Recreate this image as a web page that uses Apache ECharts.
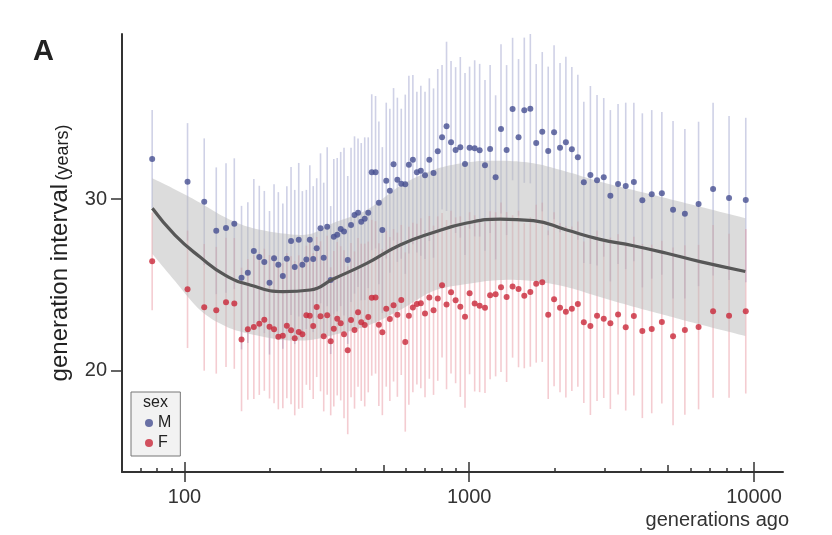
<!DOCTYPE html>
<html>
<head>
<meta charset="utf-8">
<title>generation interval</title>
<script src="https://cdn.jsdelivr.net/npm/echarts@6.0.0/dist/echarts.min.js"></script>
<style>
  html, body { margin: 0; padding: 0; background: #fff; }
  #echarts_id { width: 832px; height: 535px; }
</style>
</head>
<body>
<div id="echarts_id"></div>
<script>
// bins (generations ago)
var gens = [77, 102.5, 117.3, 129.3, 139.9, 149.6, 158.6, 166.9, 175.2, 183.1,
  190.7, 198.9, 206.3, 213.6, 221.5, 228.8, 236.7, 243.9, 251.9, 259.4,
  267.9, 275.5, 283.2, 291.3, 300.4, 308.3, 317.1, 326.2, 334.5, 343.9,
  353.7, 363.3, 374.4, 384.5, 395.5, 406.9, 417.6, 429.5, 441.9, 454.6,
  468.8, 481.5, 495.3, 511.2, 526.3, 542.3, 559.3, 577.2, 596.2, 613.8,
  634, 654.8, 676.1, 699.4, 724.3, 749.3, 775.3, 802.7, 832.4, 863.2,
  895.8, 930.5, 966.5, 1003, 1045, 1088, 1136, 1184, 1238, 1293,
  1353, 1420, 1490, 1561, 1639, 1719, 1805, 1894, 1986, 2084,
  2185, 2293, 2407, 2526, 2664, 2811, 2968, 3131, 3332, 3545,
  3786, 4055, 4375, 4748, 5198, 5720, 6390, 7185, 8176, 9359];

var maleVal = [32.33, 31.00, 29.84, 28.15, 28.31, 28.56, 25.42, 25.71, 26.97, 26.62,
  26.33, 25.12, 26.55, 26.17, 25.51, 26.52, 27.55, 26.04, 27.63, 26.17,
  26.48, 27.63, 26.50, 27.13, 28.29, 26.58, 28.39, 25.28, 27.80, 27.92,
  28.25, 28.10, 26.45, 28.49, 29.07, 29.20, 28.68, 28.85, 29.20, 31.56,
  31.56, 29.78, 28.19, 31.07, 30.48, 32.02, 31.12, 30.89, 30.86, 32.00,
  32.29, 31.56, 31.65, 31.38, 32.29, 31.51, 32.78, 33.60, 34.23, 33.30,
  32.85, 33.01, 32.04, 32.99, 32.95, 32.84, 31.96, 32.91, 31.26, 34.08,
  32.85, 35.24, 33.59, 35.17, 35.26, 33.26, 33.92, 32.80, 33.89, 32.99,
  33.30, 32.90, 32.43, 30.97, 31.40, 31.09, 31.26, 30.19, 30.87, 30.76,
  30.99, 29.92, 30.27, 30.33, 29.38, 29.14, 29.71, 30.58, 30.06, 29.94];

var femaleVal = [26.37, 24.74, 23.69, 23.52, 23.98, 23.92, 21.82, 22.41, 22.54, 22.74,
  22.97, 22.56, 22.41, 21.98, 22.04, 22.62, 22.35, 21.89, 22.25, 22.12,
  23.23, 23.20, 22.60, 23.71, 23.17, 22.00, 23.23, 21.71, 22.44, 23.03,
  22.76, 22.12, 21.19, 22.95, 22.37, 23.40, 22.82, 22.66, 23.13, 24.25,
  24.27, 22.68, 22.24, 23.61, 23.01, 23.81, 23.26, 24.12, 21.67, 23.20,
  23.68, 23.88, 23.93, 23.33, 24.27, 23.52, 24.20, 24.98, 23.85, 24.57,
  24.10, 23.73, 23.14, 24.51, 23.92, 23.78, 23.67, 24.39, 24.45, 24.86,
  24.29, 24.91, 24.76, 24.37, 24.58, 25.07, 25.15, 23.26, 24.16, 23.67,
  23.43, 23.61, 23.88, 22.82, 22.60, 23.20, 23.03, 22.76, 23.28, 22.53,
  23.18, 22.31, 22.43, 22.83, 22.00, 22.37, 22.54, 23.46, 23.20, 23.46];

// half width of the error bars (same for M and F in a bin)
var errHalf = [2.85, 3.42, 3.69, 3.69, 3.77, 3.81, 4.18, 4.10, 4.19, 4.15,
  4.14, 4.18, 4.31, 4.23, 4.23, 4.22, 4.31, 4.49, 4.47, 4.29,
  4.05, 4.33, 4.25, 4.08, 4.37, 4.37, 4.63, 4.31, 4.53, 4.47,
  4.49, 4.89, 4.89, 4.49, 4.58, 4.33, 4.58, 4.74, 4.39, 4.54,
  4.44, 4.74, 4.83, 4.54, 4.78, 4.44, 4.78, 4.37, 5.22, 5.18,
  4.93, 4.68, 4.95, 4.87, 4.74, 4.93, 4.79, 4.21, 4.93, 4.74,
  4.83, 5.26, 5.30, 4.72, 5.13, 5.03, 4.97, 4.89, 4.78, 4.93,
  4.95, 4.15, 4.56, 4.23, 4.35, 4.60, 4.64, 4.91, 5.07, 4.93,
  4.99, 4.79, 4.81, 4.70, 5.18, 4.97, 4.62, 4.99, 4.66, 4.85,
  4.62, 5.07, 4.91, 4.74, 5.17, 4.93, 4.79, 5.03, 4.78, 4.79];

// smooth fit and its band
var fitGen = [77.1, 92.6, 113.4, 138.8, 169.9, 222.3, 276, 333.2, 436.4, 571.4,
  747.9, 979.9, 1283, 1680, 2200, 2880, 3771, 4939, 6466, 9327];
var fitVal = [29.46, 27.90, 26.62, 25.57, 24.99, 24.61, 24.70, 25.34, 26.25, 27.32,
  28.05, 28.60, 28.83, 28.74, 28.19, 27.65, 27.28, 26.84, 26.35, 25.78];
var bandHigh = [31.21, 30.56, 29.78, 28.93, 28.35, 27.99, 27.96, 28.60, 29.36, 30.76,
  31.69, 32.13, 32.23, 32.08, 31.59, 31.01, 30.52, 30.04, 29.55, 28.88];
var bandLow = [26.80, 25.22, 23.53, 22.60, 22.14, 21.79, 21.79, 22.08, 22.60, 23.53,
  24.64, 25.05, 25.28, 25.22, 24.87, 24.29, 23.73, 23.21, 22.69, 22.02];

// ticks
var majorTicks = [100, 1000, 10000];
var midTicks = [500, 5000];
var minorTicks = [70, 80, 90, 200, 300, 400, 600, 700, 800, 900,
  2000, 3000, 4000, 6000, 7000, 8000, 9000];
var yTicks = [20, 30];

var X_MIN = 60.33, X_MAX = 12647;
var Y_MIN = 14.1, Y_MAX = 39.61;

var font = "'Liberation Sans', Arial, sans-serif";
var axisColor = '#333';

function toLog(arr) {
  return arr.map(function (v) { return Math.log10(v); });
}

function barData(vals) {
  return gens.map(function (g, i) {
    return [g, vals[i] - errHalf[i], vals[i] + errHalf[i]];
  });
}

function renderBar(params, api) {
  var p1 = api.coord([api.value(0), api.value(1)]);
  var p2 = api.coord([api.value(0), api.value(2)]);
  return {
    type: 'line',
    shape: { x1: p1[0], y1: p1[1], x2: p2[0], y2: p2[1] },
    style: { stroke: api.visual('color'), lineWidth: 1.6 }
  };
}

// catmull-rom through pixel points, so the band edges are smooth
function spline(pts, steps) {
  var out = [];
  var n = pts.length;
  for (var i = 0; i < n - 1; i++) {
    var p0 = pts[Math.max(i - 1, 0)], p1 = pts[i], p2 = pts[i + 1], p3 = pts[Math.min(i + 2, n - 1)];
    for (var s = 0; s < steps; s++) {
      var t = s / steps, t2 = t * t, t3 = t2 * t;
      var pt = [];
      for (var k = 0; k < 2; k++) {
        pt.push(0.5 * (2 * p1[k] + (p2[k] - p0[k]) * t +
          (2 * p0[k] - 5 * p1[k] + 4 * p2[k] - p3[k]) * t2 +
          (3 * p1[k] - p0[k] - 3 * p2[k] + p3[k]) * t3));
      }
      out.push(pt);
    }
  }
  out.push(pts[n - 1]);
  return out;
}

// whole band drawn once, from the first item
function renderBand(params, api) {
  if (params.dataIndex !== 0) return null;
  var up = fitGen.map(function (g, i) { return api.coord([g, bandHigh[i]]); });
  var lo = fitGen.map(function (g, i) { return api.coord([g, bandLow[i]]); });
  var pts = spline(up, 10).concat(spline(lo, 10).reverse());
  return {
    type: 'polygon',
    shape: { points: pts },
    style: { fill: 'rgba(185,185,185,0.5)' }
  };
}

// extra x axes in log10 space, only used for ticks / labels
function tickAxis(values, len, inside) {
  return {
    type: 'value',
    position: 'bottom',
    min: Math.log10(X_MIN),
    max: Math.log10(X_MAX),
    axisLine: { show: false },
    axisTick: {
      customValues: toLog(values),
      length: len,
      inside: inside,
      lineStyle: { color: axisColor, width: 1.5 }
    },
    axisLabel: { show: false },
    splitLine: { show: false }
  };
}

var myChart = echarts.init(document.getElementById('echarts_id'));

var labelAxis = tickAxis(majorTicks, 10, false);
labelAxis.axisLine = { show: true, lineStyle: { color: axisColor, width: 2 } };
labelAxis.axisLabel = {
  show: true,
  customValues: toLog(majorTicks),
  formatter: function (v) { return String(Math.round(Math.pow(10, v))); },
  fontSize: 20,
  color: '#333',
  margin: 15,
  fontFamily: font
};
labelAxis.name = 'generations ago';
labelAxis.nameLocation = 'end';
labelAxis.nameGap = 6;
labelAxis.nameTextStyle = {
  fontSize: 20, color: '#333', fontFamily: font,
  align: 'right', verticalAlign: 'top', padding: [38, 0, 0, 0]
};

var option = {
  animation: false,
  textStyle: { fontFamily: font },
  title: [{
    text: 'A',
    left: 33, top: 37, padding: 0,
    textStyle: { fontSize: 29, fontWeight: 'bold', color: '#222', fontFamily: font }
  }, {
    text: 'sex',
    left: 143, top: 395, padding: 0,
    textStyle: { fontSize: 16, fontWeight: 'normal', color: '#222', fontFamily: font }
  }],
  legend: {
    data: ['M', 'F'],
    orient: 'vertical',
    left: 131, top: 392,
    padding: [23, 9, 5, 14],
    itemWidth: 8, itemHeight: 8, itemGap: 4, itemTextGap: 10,
    icon: 'circle',
    backgroundColor: '#f2f2f2',
    borderColor: '#777', borderWidth: 1,
    textStyle: { fontSize: 16, color: '#222', fontFamily: font }
  },
  grid: { left: 122, right: 49, top: 34, bottom: 63 },
  xAxis: [
    { type: 'log', logBase: 10, min: X_MIN, max: X_MAX, show: false },
    labelAxis,
    tickAxis(majorTicks, 10, true),
    tickAxis(midTicks, 7, true),
    tickAxis(minorTicks, 4, true)
  ],
  yAxis: {
    type: 'value',
    min: Y_MIN, max: Y_MAX,
    axisLine: { show: true, lineStyle: { color: axisColor, width: 2 } },
    axisTick: { customValues: yTicks, length: 11, lineStyle: { color: axisColor, width: 1.5 } },
    axisLabel: { customValues: yTicks, fontSize: 20, color: '#333', margin: 15, fontFamily: font },
    splitLine: { show: false },
    name: '{a|generation interval} {b|(years)}',
    nameLocation: 'middle',
    nameGap: 50,
    nameTextStyle: {
      color: '#222',
      rich: {
        a: { fontSize: 24, lineHeight: 28, fontFamily: font, color: '#222', verticalAlign: 'bottom' },
        b: { fontSize: 18, lineHeight: 28, fontFamily: font, color: '#222', verticalAlign: 'bottom' }
      }
    }
  },
  series: [
    {
      name: 'M bars', type: 'custom', renderItem: renderBar,
      itemStyle: { color: 'rgba(140,145,195,0.42)' },
      encode: { x: 0, y: [1, 2] },
      data: barData(maleVal)
    },
    {
      name: 'F bars', type: 'custom', renderItem: renderBar,
      itemStyle: { color: 'rgba(225,120,135,0.38)' },
      encode: { x: 0, y: [1, 2] },
      data: barData(femaleVal)
    },
    {
      name: 'band', type: 'custom', renderItem: renderBand,
      encode: { x: 0, y: [1, 2] },
      data: fitGen.map(function (g, i) { return [g, bandLow[i], bandHigh[i]]; })
    },
    {
      name: 'fit', type: 'line', smooth: true, showSymbol: false,
      lineStyle: { color: '#575757', width: 3.2 },
      data: fitGen.map(function (g, i) { return [g, fitVal[i]]; })
    },
    {
      name: 'M', type: 'scatter', symbolSize: 6,
      itemStyle: { color: '#464f91' },
      data: gens.map(function (g, i) { return [g, maleVal[i]]; })
    },
    {
      name: 'F', type: 'scatter', symbolSize: 6,
      itemStyle: { color: '#c9283a' },
      data: gens.map(function (g, i) { return [g, femaleVal[i]]; })
    }
  ]
};

myChart.setOption(option);
</script>
</body>
</html>
